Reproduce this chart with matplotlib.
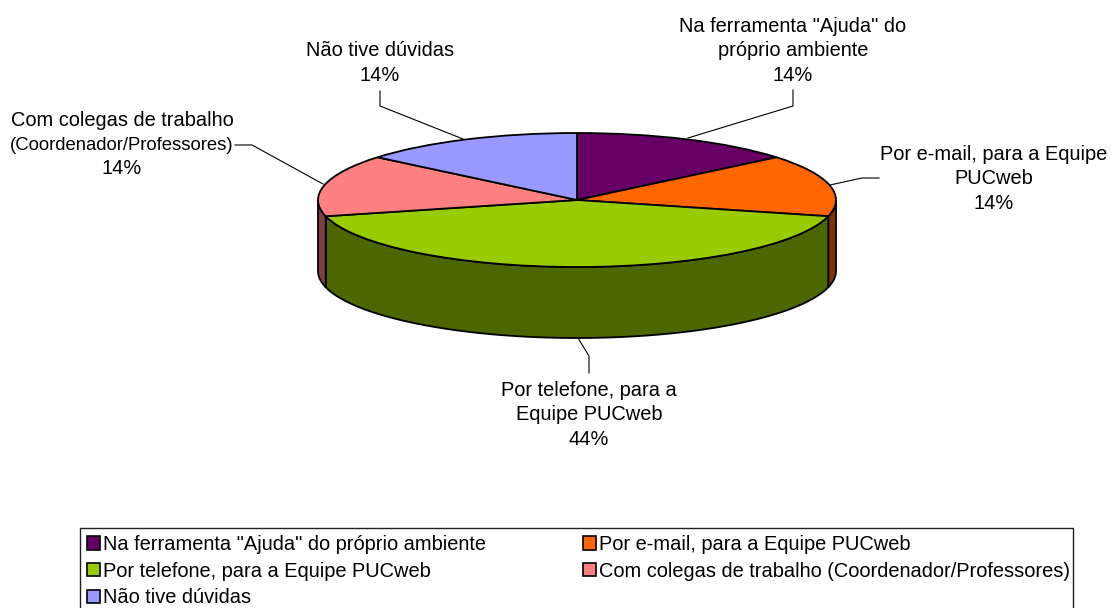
import numpy as np
import matplotlib
matplotlib.use("Agg")
import matplotlib.pyplot as plt
from matplotlib.patches import Patch, Rectangle

plt.rcParams['font.family'] = ['Liberation Sans', 'DejaVu Sans']

W, H = 1111, 608

categories = ['Na ferramenta "Ajuda" do próprio ambiente', 'Por e-mail, para a Equipe PUCweb',
              'Por telefone, para a Equipe PUCweb', 'Com colegas de trabalho (Coordenador/Professores)',
              'Não tive dúvidas']
# printed labels are 14/14/44/14/14, these are the shares as the tilted pie shows them
values = [14, 14.9, 42.2, 14.9, 14]
top_colors = ['#660066', '#FF6600', '#99CC00', '#FF8080', '#9999FF']
side_colors = ['#330033', '#7F3300', '#4C6600', '#804040', '#4C4C80']

fig = plt.figure(figsize=(W / 100, H / 100), dpi=100)

# overlay in pixel coordinates for labels, leaders and the legend box
over = fig.add_axes([0, 0, 1, 1], zorder=3)
over.set_xlim(0, W)
over.set_ylim(H, 0)
over.axis('off')

# pie axes: one unit is one radius, squashed to an ellipse
cx, cy, rx, ry, depth = 577, 200, 259, 67, 71
ax = fig.add_axes([(cx - rx) / W, 1 - (cy + ry) / H, 2 * rx / W, 2 * ry / H], zorder=2)
ax.pie(values, colors=top_colors, startangle=90, counterclock=False, radius=1,
       wedgeprops=dict(edgecolor='black', linewidth=1.3, zorder=5))
ax.set_aspect('auto')
ax.set_xlim(-1, 1)
ax.set_ylim(-1, 1)
for w in ax.patches:
    w.set_clip_on(False)

# side walls, only the front half of the pie shows
d = 2 * depth / (2 * ry)
edges = np.cumsum([0] + values) / sum(values) * 2 * np.pi
for i in range(len(values)):
    a0 = max(edges[i], np.pi / 2)
    a1 = min(edges[i + 1], 3 * np.pi / 2)
    if a1 <= a0:
        continue
    t = np.linspace(a0, a1, 120)
    xs = np.sin(t)
    ys = np.cos(t)
    ax.fill(np.r_[xs, xs[::-1]], np.r_[ys, ys[::-1] - d], facecolor=side_colors[i],
            edgecolor='black', linewidth=1.3, clip_on=False, zorder=1)

# data labels
fs = 14.4
labels = [('Na ferramenta "Ajuda" do\npróprio ambiente\n14%', 793, 51),
          ('Por e-mail, para a Equipe\nPUCweb\n14%', 994, 179),
          ('Por telefone, para a\nEquipe PUCweb\n44%', 589, 415),
          ('Não tive dúvidas\n14%', 380, 63)]
for txt, x, y in labels:
    over.text(x, y, txt, ha='center', va='center', fontsize=fs, linespacing=1.34, color='black')
over.text(122, 120, 'Com colegas de trabalho', ha='center', va='center', fontsize=fs)
over.text(122, 145, '(Coordenador/Professores)', ha='center', va='center', fontsize=13.3)
over.text(122, 169, '14%', ha='center', va='center', fontsize=fs)

# leader lines
leaders = [([688, 793, 793], [138, 106, 90]),
           ([830, 862, 879], [185, 178, 178]),
           ([578, 589, 589], [338, 356, 373]),
           ([463, 380, 380], [139, 106, 91]),
           ([323, 252, 235], [184, 145, 145])]
for xs, ys in leaders:
    over.plot(xs, ys, color='black', lw=0.8, zorder=1)

# legend box runs past the bottom of the image
over.add_patch(Rectangle((80, 528), 993, 90, facecolor='white', edgecolor='#222222', linewidth=1.0))

# matplotlib fills columns first so items are reordered
handles = [Patch(facecolor=c, edgecolor='black', linewidth=1.2) for c in top_colors]
order = [0, 2, 4, 1, 3]
leg = over.legend([handles[i] for i in order], [categories[i] for i in order], ncol=2,
                  loc='upper left', bbox_to_anchor=(87 / W, 1 - 535 / H), bbox_transform=fig.transFigure,
                  fontsize=fs, frameon=False, borderpad=0, labelspacing=0.38,
                  handlelength=0.65, handleheight=0.65, handletextpad=0.15,
                  columnspacing=4.85, borderaxespad=0)

fig.savefig('out.png', dpi=100)
